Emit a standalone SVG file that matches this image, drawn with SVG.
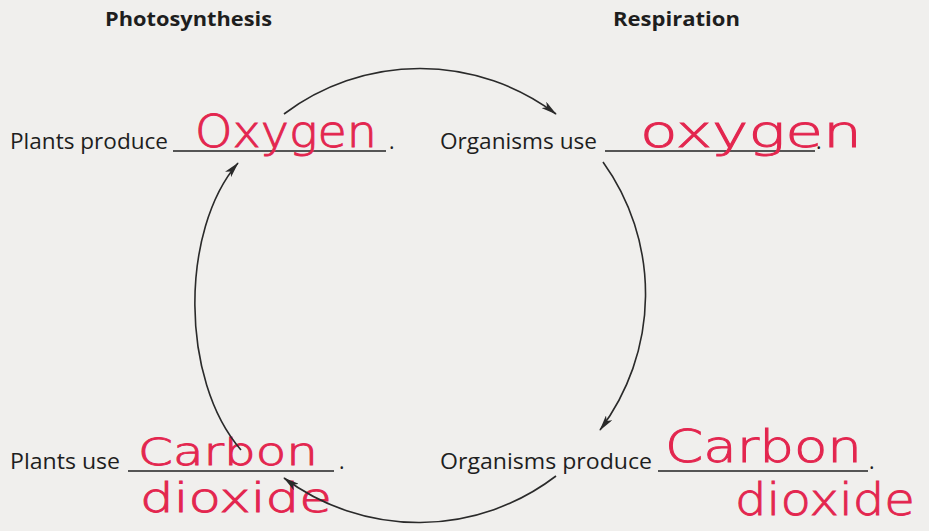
<svg xmlns="http://www.w3.org/2000/svg" width="929" height="531" viewBox="0 0 929 531">
<defs>
<style>
.bg{fill:#f0efed}
.title{font-family:"Open Sans","Noto Sans",sans-serif;font-weight:bold;font-size:20px;fill:#1e1e1e}
.lbl{font-family:"Open Sans","Noto Sans",sans-serif;font-size:21px;fill:#1e1e1e}
.ans{font-family:"DejaVu Sans","Noto Sans",sans-serif;font-weight:200;font-size:44px;fill:#e3264f;stroke:#e3264f;stroke-width:0.9}
.blank{stroke:#222;stroke-width:1.6;fill:none}
.arc{stroke:#2a2a2a;stroke-width:1.6;fill:none}
</style>
<marker id="ah" viewBox="0 0 20 10" refX="19" refY="5" markerWidth="16" markerHeight="8" markerUnits="userSpaceOnUse" orient="auto">
<path d="M0,0 L20,5 L0,10 L5,5 Z" fill="#2a2a2a"/>
</marker>
</defs>
<rect class="bg" x="0" y="0" width="929" height="531"/>
<g id="headers">
<text class="title" x="105" y="26" textLength="167" lengthAdjust="spacingAndGlyphs">Photosynthesis</text>
<text class="title" x="613" y="26" textLength="127" lengthAdjust="spacingAndGlyphs">Respiration</text>
</g>
<g id="node-plants-produce">
<text class="lbl" x="10" y="149" textLength="158" lengthAdjust="spacingAndGlyphs">Plants produce</text>
<line class="blank" x1="173" y1="151" x2="386" y2="151"/>
<text class="lbl" x="389" y="149">.</text>
<text class="ans" x="195" y="147" textLength="182" lengthAdjust="spacingAndGlyphs">Oxygen</text>
</g>
<g id="node-organisms-use">
<text class="lbl" x="440" y="149" textLength="157" lengthAdjust="spacingAndGlyphs">Organisms use</text>
<line class="blank" x1="605" y1="151" x2="815" y2="151"/>
<text class="lbl" x="816" y="149">.</text>
<text class="ans" x="640" y="147" textLength="222" lengthAdjust="spacingAndGlyphs">oxygen</text>
</g>
<g id="node-plants-use">
<text class="lbl" x="10" y="469" textLength="110" lengthAdjust="spacingAndGlyphs">Plants use</text>
<line class="blank" x1="128" y1="471" x2="334" y2="471"/>
<text class="lbl" x="339" y="469">.</text>
<text class="ans" x="138" y="465" textLength="180" lengthAdjust="spacingAndGlyphs" style="font-size:38px">Carbon</text>
<text class="ans" x="140" y="512" textLength="192" lengthAdjust="spacingAndGlyphs" style="font-size:40px">dioxide</text>
</g>
<g id="node-organisms-produce">
<text class="lbl" x="440" y="469" textLength="212" lengthAdjust="spacingAndGlyphs">Organisms produce</text>
<line class="blank" x1="658" y1="471" x2="868" y2="471"/>
<text class="lbl" x="869" y="469">.</text>
<text class="ans" x="665" y="462" textLength="197" lengthAdjust="spacingAndGlyphs" style="font-size:44px">Carbon</text>
<text class="ans" x="735" y="515" textLength="180" lengthAdjust="spacingAndGlyphs" style="font-size:44px">dioxide</text>
</g>
<g id="connectors">
<path class="arc" d="M284,114 A226,226 0 0 1 556,114" marker-end="url(#ah)"/>
<path class="arc" d="M603,162 A226,226 0 0 1 600,430" marker-end="url(#ah)"/>
<path class="arc" d="M556,476 A226,226 0 0 1 284,478" marker-end="url(#ah)"/>
<path class="arc" d="M241,450 C180,380 180,230 238,163" marker-end="url(#ah)"/>
</g>
</svg>
